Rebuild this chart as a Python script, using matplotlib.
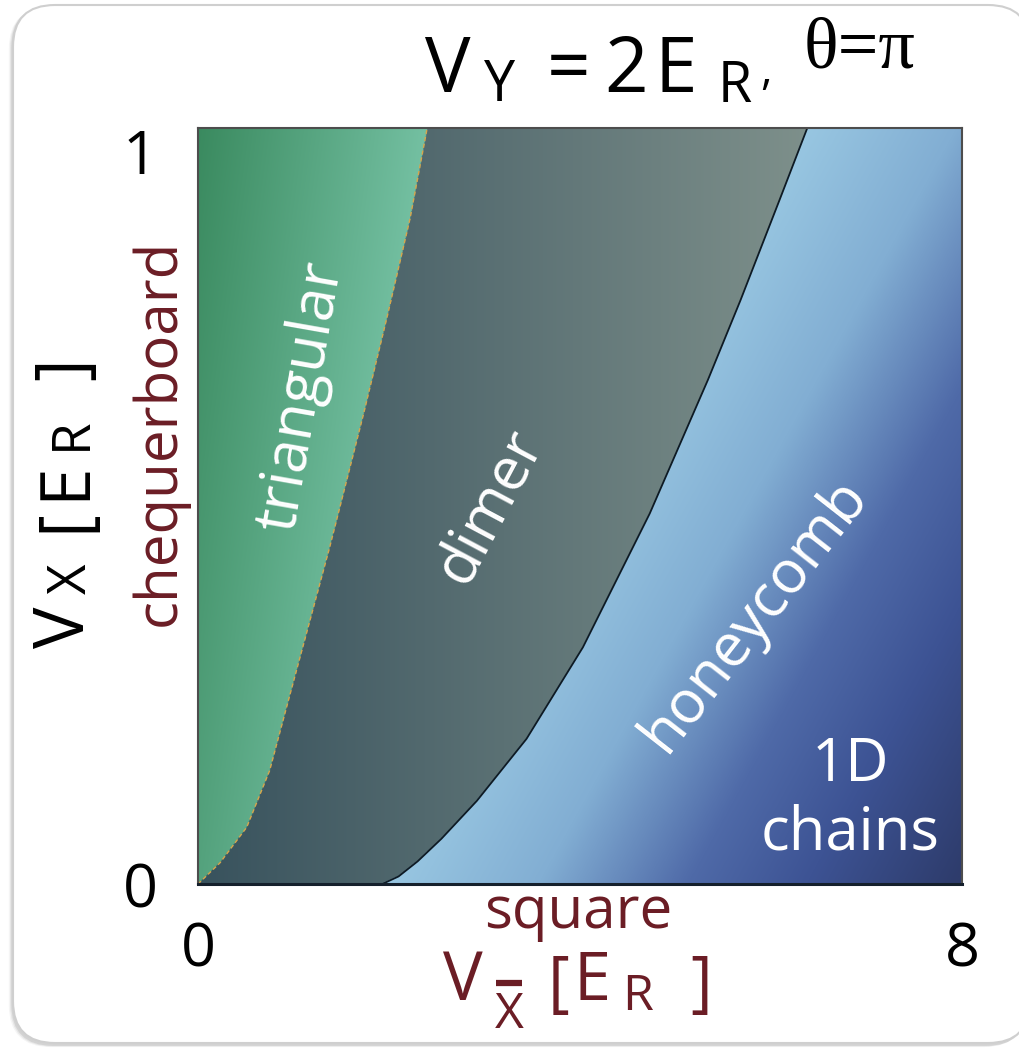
import numpy as np
import matplotlib
matplotlib.use("Agg")
import matplotlib.pyplot as plt
from matplotlib.colors import LinearSegmentedColormap, to_rgb
from matplotlib.patches import FancyBboxPatch

# Phase boundaries: V_Xbar position of each transition as a function of V_X
tri_dimer_vx = [0.0, 0.028, 0.075, 0.150, 0.235, 0.446, 0.620, 0.750, 0.880, 1.0]
tri_dimer_vxbar = [0.0, 0.23, 0.51, 0.75, 0.93, 1.38, 1.73, 1.98, 2.22, 2.40]
dimer_honey_vx = [0.0, 0.010, 0.030, 0.060, 0.110, 0.192, 0.313, 0.490, 0.667,
                  0.772, 0.905, 1.0]
dimer_honey_vxbar = [1.93, 2.10, 2.30, 2.55, 2.92, 3.44, 4.03, 4.73, 5.34,
                     5.68, 6.09, 6.38]

# Region names, label anchors (V_Xbar, V_X) and text angles
phase_names = ["triangular", "dimer", "honeycomb", "1D\nchains"]
phase_label_x = [1.08, 3.06, 5.83, 6.83]
phase_label_y = [0.645, 0.50, 0.356, 0.112]
phase_label_rot = [80, 62, 52, 0]

xlim = [0, 8]
ylim = [0, 1]
xtick_labels = ["0", "8"]
ytick_labels = ["0", "1"]

W, H = 1019, 1050
DARKRED = "#6b1d25"
SANS = ["Open Sans", "DejaVu Sans"]

plt.rcParams["font.family"] = SANS

fig = plt.figure(figsize=(W / 100, H / 100), dpi=100)

# rounded card behind the chart
bg = fig.add_axes([0, 0, 1, 1], zorder=-5)
bg.set_xlim(0, W)
bg.set_ylim(H, 0)
bg.axis("off")
for off, a in [(7, 0.04), (5, 0.06), (3, 0.08)]:
    bg.add_patch(FancyBboxPatch((13 - off * 0.6, 5 + off * 0.3), 1017, 1040,
                                boxstyle="round,pad=0,rounding_size=42",
                                fc="black", ec="none", alpha=a))
bg.add_patch(FancyBboxPatch((13, 5), 1017, 1038,
                            boxstyle="round,pad=0,rounding_size=42",
                            fc="white", ec="#cfcfcf", lw=1.5))

ax = fig.add_axes([198 / W, 1 - 884 / H, (962 - 198) / W, (884 - 128) / H])

# shaded phase map
nx, ny = 1400, 700
gx = np.linspace(xlim[0], xlim[1], nx)
gy = np.linspace(ylim[0], ylim[1], ny)
X, Y = np.meshgrid(gx, gy)
xb1 = np.interp(Y, tri_dimer_vx, tri_dimer_vxbar)
xb2 = np.interp(Y, dimer_honey_vx, dimer_honey_vxbar)


def blend(c0, c1, t):
    c0 = np.array(to_rgb(c0))
    c1 = np.array(to_rgb(c1))
    t = np.clip(t, 0, 1)[..., None]
    return c0 * (1 - t) + c1 * t


tri_rgb = blend("#3a8a5f", "#74c0a2", X / 2.4 + 0.45 * (1 - Y))
dim_rgb = blend("#38525d", "#7e908b", X / 6.4)
honey_cmap = LinearSegmentedColormap.from_list(
    "honey", [(0.0, "#9ccbe4"), (0.3, "#82aed3"), (0.55, "#4f6aa8"),
              (0.75, "#3d5394"), (1.0, "#2e3c6c")])
t_h = np.clip(0.16 * (X - 2.0) - 0.7 * Y + 0.05, 0, 1)
hon_rgb = honey_cmap(t_h)[..., :3]

img = np.where((X < xb1)[..., None], tri_rgb,
               np.where((X < xb2)[..., None], dim_rgb, hon_rgb))
ax.imshow(img, extent=[xlim[0], xlim[1], ylim[0], ylim[1]], origin="lower",
          aspect="auto", interpolation="bilinear", zorder=0)

ax.plot(tri_dimer_vxbar, tri_dimer_vx, color="#d8a64c", lw=1.0,
        ls=(0, (3, 2)), zorder=2)
ax.plot(dimer_honey_vxbar, dimer_honey_vx, color="#0e1a24", lw=1.3, zorder=2)

ax.set_xlim(xlim)
ax.set_ylim(ylim)
for s in ax.spines.values():
    s.set_color("#4d4d4d")
    s.set_linewidth(1.5)
ax.spines["bottom"].set_color("#15202c")
ax.spines["bottom"].set_linewidth(2.2)

ax.set_xticks(xlim)
ax.set_xticklabels(xtick_labels)
ax.set_yticks(ylim)
ax.set_yticklabels(ytick_labels)
ax.tick_params(length=0, labelsize=44, colors="black")
ax.tick_params(axis="x", pad=26)
ax.tick_params(axis="y", pad=29)
ax.get_yticklabels()[1].set_va("top")

for name, px, py, rot in zip(phase_names, phase_label_x, phase_label_y, phase_label_rot):
    ax.text(px, py, name, rotation=rot, rotation_mode="anchor", ha="center",
            va="center", color="white", fontsize=43, linespacing=1.2, zorder=3)


def fx(x):
    return x / W


def fy(y):
    return 1 - y / H


def put(pieces, color="black", rotation=0, family=SANS):
    """Place text fragments at pixel positions (start point on the baseline)."""
    for s, x, y, size in pieces:
        fig.text(fx(x), fy(y), s, fontsize=size, color=color, family=family,
                 rotation=rotation, rotation_mode="anchor",
                 ha="left", va="baseline")


# heading: V_Y = 2 E_R, θ=π
put([("V", 425, 92, 55), ("Y", 484, 101, 40), ("=", 547, 92, 55),
     ("2", 604, 92, 55), ("E", 654, 92, 55), ("R", 718, 102, 40),
     (",", 760, 84, 32)])
put([("θ=π", 804, 68, 52)], family=["Liberation Serif", "DejaVu Serif"])

# vertical axis title: V_X [E_R ]
put([("V", 84, 648, 50), ("X", 86, 594, 38), ("[", 84, 532, 50),
     ("E", 84, 500, 50), ("R", 86, 450, 38), ("]", 84, 380, 50)], rotation=90)
fig.text(fx(160), fy(432), "chequerboard", rotation=90, color=DARKRED,
         fontsize=42, ha="center", va="center")

# horizontal axis title: square / V_Xbar [E_R ]
fig.text(fx(578), fy(928), "square", color=DARKRED, fontsize=42,
         ha="center", va="baseline")
put([("V", 443, 1000, 48), ("X", 495, 1028, 36), ("[", 548, 1004, 48),
     ("E", 573, 1000, 48), ("R", 622, 1010, 36), ("]", 690, 1004, 48)],
    color=DARKRED)
bg.plot([496, 522], [983, 983], color=DARKRED, lw=4.5, solid_capstyle="butt")

fig.savefig("out.png", dpi=100)
